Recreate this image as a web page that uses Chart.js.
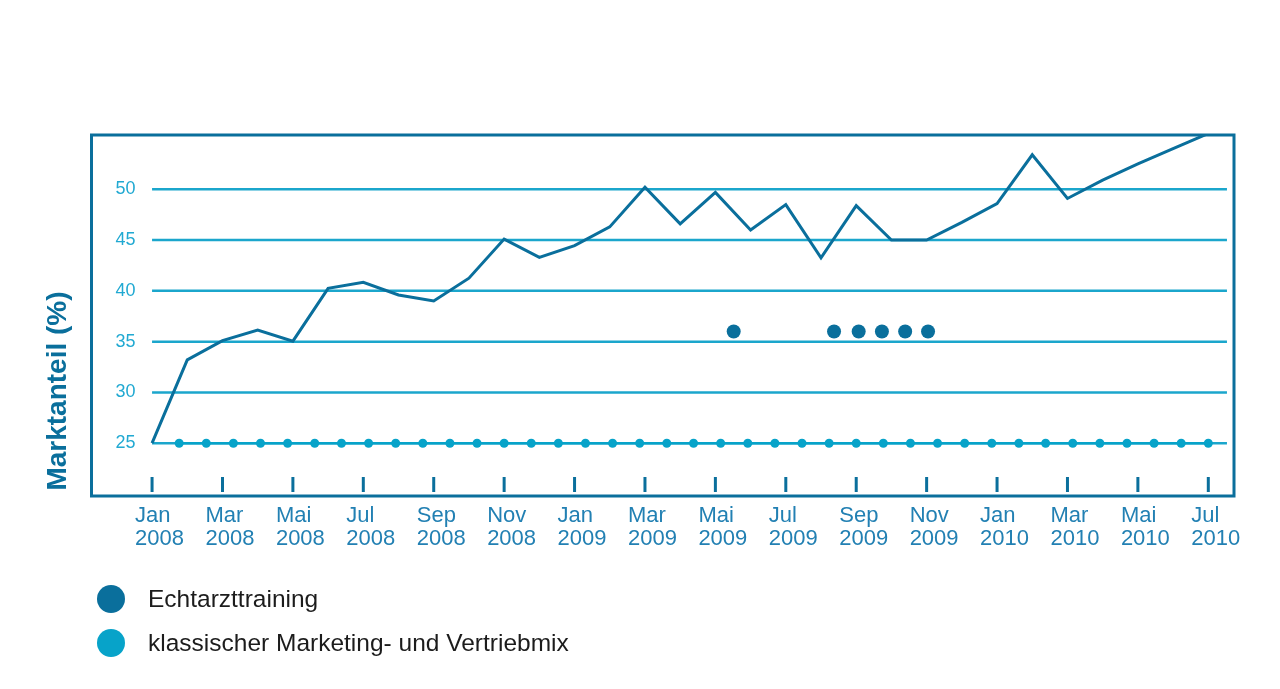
<!DOCTYPE html>
<html lang="de">
<head>
<meta charset="utf-8">
<title>Marktanteil</title>
<script src="https://cdn.jsdelivr.net/npm/chart.js@4/dist/chart.umd.min.js"></script>
<style>

    body {
        margin: 0;
        background: #ffffff;
        font-family: "Liberation Sans", Arial, sans-serif;
    }

    #wrap {
        position: relative;
        width: 1280px;
        height: 689px;
    }

    #legend {
        position: absolute;
        left: 97px;
        top: 585px;
    }

    .legendRow {
        display: flex;
        align-items: center;
        height: 28px;
        margin-bottom: 16px;
        font-size: 24.5px;
        color: #1c1c1c;
    }

    .legendDot {
        width: 28px;
        height: 28px;
        border-radius: 50%;
        margin-right: 23px;
    }

</style>
</head>
<body>

<div id="wrap">
    <canvas id="shareChart" width="1280" height="689"></canvas>
    <div id="legend"></div>
</div>

<script>

// ======================================================
// Données
// ======================================================

// Marktanteil, monatlich Jan 2008 .. Jul 2010 (x = Monat ab Jan 2008)
const shareValues = [
    25, 33.2, 35.1, 36.15, 35.05, 40.25, 40.85, 39.6, 39.0, 41.25,
    45.1, 43.3, 44.45, 46.3, 50.2, 46.6, 49.7, 46.0, 48.5, 43.25,
    48.4, 45.0, 45.0, 46.75, 48.6, 53.4, 49.1, 50.9, 52.5, 54.0,
    55.5
];

// Echtarzttraining - Termine
const trainingX = [16.52, 19.37, 20.07, 20.73, 21.39, 22.04];
const trainingY = [36, 36, 36, 36, 36, 36];

// klassischer Marketing- und Vertriebmix
const classicX = [
    0.77, 1.54, 2.31, 3.08, 3.85, 4.62, 5.38, 6.15, 6.92, 7.69,
    8.46, 9.23, 10.0, 10.77, 11.54, 12.31, 13.08, 13.85, 14.62, 15.38,
    16.15, 16.92, 17.69, 18.46, 19.23, 20.0, 20.77, 21.54, 22.31, 23.08,
    23.85, 24.62, 25.38, 26.15, 26.92, 27.69, 28.46, 29.23, 30.0
];
const classicY = [
    25, 25, 25, 25, 25, 25, 25, 25, 25, 25,
    25, 25, 25, 25, 25, 25, 25, 25, 25, 25,
    25, 25, 25, 25, 25, 25, 25, 25, 25, 25,
    25, 25, 25, 25, 25, 25, 25, 25, 25
];

// Achsen
const xTickPositions = [0, 2, 4, 6, 8, 10, 12, 14, 16, 18, 20, 22, 24, 26, 28, 30];
const xTickMonths = ["Jan", "Mar", "Mai", "Jul", "Sep", "Nov", "Jan", "Mar",
                     "Mai", "Jul", "Sep", "Nov", "Jan", "Mar", "Mai", "Jul"];
const xTickYears = ["2008", "2008", "2008", "2008", "2008", "2008", "2009", "2009",
                    "2009", "2009", "2009", "2009", "2010", "2010", "2010", "2010"];
const yTicks = [25, 30, 35, 40, 45, 50];

const yTitle = "Marktanteil (%)";
const legendLabels = ["Echtarzttraining", "klassischer Marketing- und Vertriebmix"];


// ======================================================
// Couleurs
// ======================================================

const darkBlue = "#0a6f9c";
const cyan = "#07a3c9";
const gridCyan = "#1ba6cc";


// ======================================================
// Plugin : grille, cadre, repères, titre
// ======================================================

const framePlugin = {

    id: "frame",

    beforeDatasetsDraw(chart) {

        const ctx = chart.ctx;
        const x = chart.scales.x;
        const y = chart.scales.y;

        ctx.save();
        ctx.strokeStyle = gridCyan;
        ctx.lineWidth = 2.5;

        yTicks.forEach(v => {

            const py = y.getPixelForValue(v);

            ctx.beginPath();
            ctx.moveTo(x.getPixelForValue(0), py);
            ctx.lineTo(x.getPixelForValue(30.53), py);
            ctx.stroke();

        });

        ctx.restore();

    },

    afterDatasetsDraw(chart) {

        const ctx = chart.ctx;
        const area = chart.chartArea;
        const x = chart.scales.x;

        ctx.save();

        // cadre
        ctx.strokeStyle = darkBlue;
        ctx.lineWidth = 3;
        ctx.strokeRect(area.left, area.top, area.right - area.left, area.bottom - area.top);

        // petits repères
        ctx.lineWidth = 3;

        xTickPositions.forEach(v => {

            const px = x.getPixelForValue(v);

            ctx.beginPath();
            ctx.moveTo(px, area.bottom - 19);
            ctx.lineTo(px, area.bottom - 4);
            ctx.stroke();

        });

        // titre de l'axe Y
        ctx.translate(area.left - 33, area.bottom - 105);
        ctx.rotate(-Math.PI / 2);
        ctx.fillStyle = darkBlue;
        ctx.font = "bold 28px 'Liberation Sans', Arial, sans-serif";
        ctx.textAlign = "center";
        ctx.textBaseline = "middle";
        ctx.fillText(yTitle, 0, 0);

        ctx.restore();

    }

};


// ======================================================
// Graphique
// ======================================================

function drawChart() {

    const chart = new Chart(document.getElementById("shareChart"), {

        type: "line",

        data: {

            datasets: [

                {
                    label: legendLabels[1],
                    data: classicX.map((v, i) => ({ x: v, y: classicY[i] })),
                    borderColor: cyan,
                    backgroundColor: cyan,
                    borderWidth: 2.5,
                    pointRadius: 4.5,
                    pointBorderWidth: 0,
                    fill: false
                },

                {
                    label: legendLabels[0],
                    data: shareValues.map((v, i) => ({ x: i, y: v })),
                    borderColor: darkBlue,
                    backgroundColor: darkBlue,
                    borderWidth: 3,
                    pointRadius: 0,
                    tension: 0,
                    fill: false
                },

                {
                    label: legendLabels[0] + " (Termine)",
                    data: trainingX.map((v, i) => ({ x: v, y: trainingY[i] })),
                    showLine: false,
                    borderColor: darkBlue,
                    backgroundColor: darkBlue,
                    pointRadius: 7,
                    pointBorderWidth: 0
                }

            ]

        },

        options: {

            responsive: false,
            animation: false,

            layout: {
                padding: { left: 0, top: 135, right: 46, bottom: 123 }
            },

            plugins: {
                legend: { display: false },
                tooltip: { enabled: false }
            },

            scales: {

                x: {
                    type: "linear",
                    min: -1.72,
                    max: 30.73,
                    grid: { display: false, drawTicks: false },
                    border: { display: false },
                    afterBuildTicks: scale => {
                        scale.ticks = xTickPositions.map(v => ({ value: v }));
                    },
                    afterFit: scale => {
                        scale.height = 70;
                    },
                    ticks: {
                        autoSkip: false,
                        maxRotation: 0,
                        align: "start",
                        labelOffset: -17,
                        padding: 8,
                        color: "#2280b3",
                        font: { family: "'Liberation Sans', Arial, sans-serif", size: 22, lineHeight: 1.06 },
                        callback: value => {
                            const k = xTickPositions.indexOf(value);
                            return [xTickMonths[k], xTickYears[k]];
                        }
                    }
                },

                y: {
                    min: 19.8,
                    max: 55.35,
                    grid: { display: false, drawTicks: false },
                    border: { display: false },
                    afterBuildTicks: scale => {
                        scale.ticks = yTicks.map(v => ({ value: v }));
                    },
                    afterFit: scale => {
                        scale.width = 91.5;
                    },
                    ticks: {
                        mirror: true,
                        padding: 24,
                        color: "#21a9d2",
                        font: { family: "'Liberation Sans', Arial, sans-serif", size: 18 }
                    }
                }

            }

        },

        plugins: [framePlugin]

    });

    //-----------------------------------------------------
    // Légende
    //-----------------------------------------------------

    const legend = document.getElementById("legend");
    const legendColors = [darkBlue, cyan];

    legendLabels.forEach((label, i) => {

        const row = document.createElement("div");
        row.className = "legendRow";

        const dot = document.createElement("span");
        dot.className = "legendDot";
        dot.style.background = legendColors[i];

        const text = document.createElement("span");
        text.textContent = label;

        row.appendChild(dot);
        row.appendChild(text);
        legend.appendChild(row);

    });

    return chart;

}


// ======================================================
// Initialisation
// ======================================================

window.addEventListener("load", drawChart);

</script>
</body>
</html>
